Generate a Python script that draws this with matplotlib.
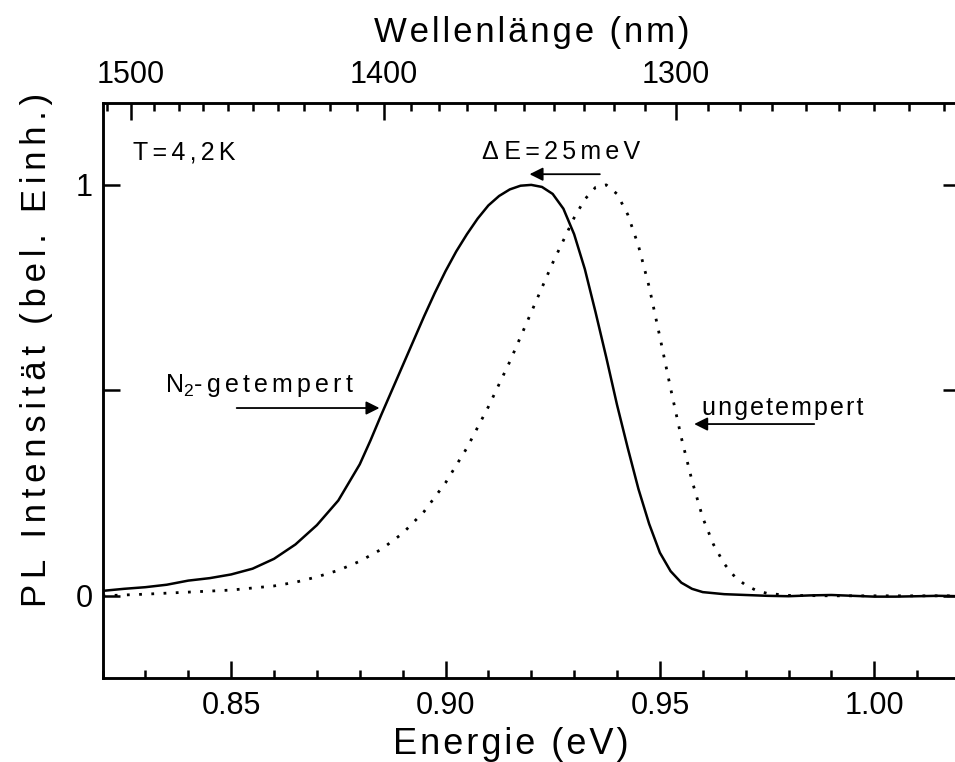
import matplotlib
matplotlib.use("Agg")
import matplotlib.pyplot as plt
from matplotlib.ticker import FixedLocator, MultipleLocator

plt.rcParams['font.family'] = ['Liberation Sans', 'DejaVu Sans']
plt.rcParams['mathtext.fontset'] = 'custom'
plt.rcParams['mathtext.rm'] = 'Liberation Sans'
plt.rcParams['mathtext.it'] = 'Liberation Sans'

# ---- data ----
# N2-annealed sample (solid)
energy_annealed = [0.820, 0.825, 0.830, 0.835, 0.840, 0.845, 0.850, 0.855, 0.860, 0.865,
                   0.870, 0.875, 0.880, 0.8825, 0.885, 0.8875, 0.890, 0.8925, 0.895, 0.8975,
                   0.900, 0.9025, 0.905, 0.9075, 0.910, 0.9125, 0.915, 0.9175, 0.920, 0.9225,
                   0.925, 0.9275, 0.930, 0.9325, 0.935, 0.9375, 0.940, 0.9425, 0.945, 0.9475,
                   0.950, 0.9525, 0.955, 0.9575, 0.960, 0.965, 0.970, 0.975, 0.980, 0.985,
                   0.990, 0.995, 1.000, 1.005, 1.010, 1.015, 1.020]
pl_annealed = [0.012, 0.017, 0.021, 0.027, 0.037, 0.043, 0.052, 0.066, 0.090, 0.125,
               0.172, 0.232, 0.320, 0.378, 0.440, 0.500, 0.560, 0.620, 0.680, 0.737,
               0.790, 0.838, 0.880, 0.918, 0.950, 0.973, 0.989, 0.998, 1.000, 0.995,
               0.978, 0.942, 0.880, 0.795, 0.690, 0.580, 0.465, 0.360, 0.260, 0.175,
               0.105, 0.060, 0.032, 0.017, 0.009, 0.004, 0.002, 0.000, -0.001, 0.001,
               0.002, 0.000, -0.002, -0.002, -0.001, 0.000, -0.001]

# as-grown sample (dotted)
energy_raw = [0.820, 0.830, 0.840, 0.850, 0.860, 0.865, 0.870, 0.875, 0.880, 0.885,
              0.890, 0.895, 0.900, 0.905, 0.910, 0.915, 0.920, 0.925, 0.9275, 0.930,
              0.9325, 0.935, 0.9375, 0.940, 0.9425, 0.945, 0.9475, 0.950, 0.9525, 0.955,
              0.9575, 0.960, 0.9625, 0.965, 0.9675, 0.970, 0.9725, 0.975, 0.980, 0.990,
              1.000, 1.010, 1.020]
pl_raw = [0.000, 0.004, 0.009, 0.014, 0.024, 0.033, 0.046, 0.062, 0.084, 0.113,
          0.152, 0.205, 0.275, 0.360, 0.460, 0.570, 0.690, 0.810, 0.865, 0.920,
          0.965, 0.994, 1.000, 0.978, 0.928, 0.852, 0.752, 0.630, 0.505, 0.385,
          0.280, 0.190, 0.125, 0.078, 0.046, 0.026, 0.013, 0.006, 0.001, 0.000,
          0.000, 0.000, 0.000]

wl_major = [1500, 1400, 1300]
wl_minor = list(range(1220, 1520, 10))
hc = 1239.84  # eV nm


def sp(s, gap='\u200a'):
    # spaced-out lettering like the original export
    return gap.join(s)


fig = plt.figure(figsize=(9.55, 7.62), dpi=100)
ax = fig.add_axes([102.5 / 955, 84 / 762, (960 - 102.5) / 955, (678 - 102.7) / 762])

ax.plot(energy_annealed, pl_annealed, color='black', lw=1.8)
ax.plot(energy_raw, pl_raw, color='black', lw=2.0, linestyle=(0, (1, 3.4)))

ax.set_xlim(0.82, 1.02)
ax.set_ylim(-0.2, 1.2)

ax.xaxis.set_major_locator(MultipleLocator(0.05))
ax.xaxis.set_minor_locator(MultipleLocator(0.01))
ax.xaxis.set_major_formatter(plt.FuncFormatter(lambda v, p: f"{v:.2f}"))
ax.set_yticks([0, 0.5, 1], ['0', '', '1'])

for s in ax.spines.values():
    s.set_linewidth(1.8)

ax.tick_params(which='both', direction='in', width=1.8, labelsize=22)
ax.tick_params(which='major', length=12)
ax.tick_params(which='minor', length=6)
ax.tick_params(axis='x', pad=9)
ax.tick_params(axis='y', pad=7, right=True)

ax.set_xlabel(sp("Energie (eV)"), fontsize=26)
ax.xaxis.set_label_coords(0.476, -0.086)
ax.set_ylabel(sp("PL Intensität (bel. Einh.)", '\u200a\u200a'), fontsize=25)
ax.yaxis.set_label_coords(-0.058, 0.57)

# ---- top wavelength axis ----
top = ax.twiny()
top.set_xlim(ax.get_xlim())
top.set_xticks([hc / w for w in wl_major], [str(w) for w in wl_major])
top.xaxis.set_minor_locator(FixedLocator([hc / w for w in wl_minor if w not in wl_major]))
top.tick_params(which='both', direction='in', width=1.8, labelsize=22, pad=9)
top.tick_params(which='major', length=12)
top.tick_params(which='minor', length=6)
for s in top.spines.values():
    s.set_linewidth(1.8)
top.set_xlabel(sp("Wellenlänge (nm)"), fontsize=25)
top.xaxis.set_label_coords(0.5, 1.106)

# ---- annotations ----
ax.text(0.8271, 1.08, sp("T=4,2K", '\u200a\u200a'), fontsize=18, va='center', ha='left')
ax.text(0.9085, 1.08, "Δ " + sp("E=25meV", '\u200a\u200a'), fontsize=18, va='center', ha='left')
arrow = dict(arrowstyle='-|>', color='black', lw=1.3, mutation_scale=20, shrinkA=0, shrinkB=0)
ax.annotate('', xy=(0.9196, 1.026), xytext=(0.936, 1.026), arrowprops=arrow)

ax.text(0.8346, 0.513, "N$_2$" + sp("-getempert", '\u200a\u200a'), fontsize=18, va='center', ha='left')
ax.annotate('', xy=(0.8846, 0.457), xytext=(0.8513, 0.457), arrowprops=arrow)

ax.text(0.9598, 0.457, sp("ungetempert"), fontsize=18, va='center', ha='left')
ax.annotate('', xy=(0.958, 0.418), xytext=(0.986, 0.418), arrowprops=arrow)

fig.savefig("out.png", dpi=100)
